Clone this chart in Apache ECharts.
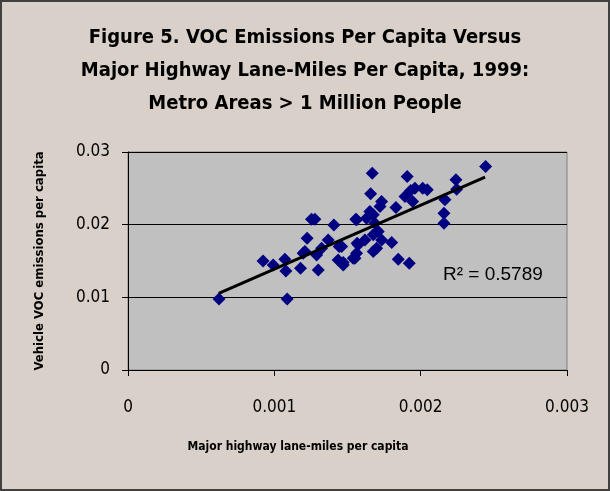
<!DOCTYPE html>
<html><head><meta charset="utf-8">
<script src="https://cdn.jsdelivr.net/npm/echarts@6/dist/echarts.min.js"></script>
<style>html,body{margin:0;padding:0;background:#d9d0c9}#c{width:610px;height:491px}</style>
</head><body><div id="c"></div>
<script>
// Data: metro areas > 1 million people (x: lane-miles per capita, y: VOC emissions per capita)
var laneMiles = [0.000622,0.001088,0.000923,0.000992,0.001072,0.001079,0.001179,0.0013,0.001197,0.001209,0.001224,0.001254,0.001277,0.001407,0.001289,0.001323,0.001368,0.001436,0.001471,0.001443,0.001539,0.001562,0.001566,0.001557,0.001669,0.001908,0.001658,0.001733,0.001722,0.001653,0.001676,0.001562,0.00163,0.001831,0.001893,0.001932,0.001961,0.002014,0.002045,0.001945,0.002166,0.002159,0.002159,0.001802,0.001847,0.001922,0.001687,0.00171,0.001676,0.001619,0.001573,0.001699,0.001676,0.001551,0.001471,0.00146,0.001733,0.002241,0.002246,0.002444];
var vocEmissions = [0.00978,0.00978,0.01501,0.01446,0.01525,0.01364,0.01401,0.01377,0.01607,0.0163,0.01814,0.02076,0.02076,0.01997,0.01584,0.01676,0.0179,0.01515,0.01446,0.01698,0.01538,0.01607,0.01745,0.02076,0.02709,0.02663,0.02424,0.02318,0.02249,0.0218,0.02135,0.02066,0.0209,0.02236,0.02387,0.0247,0.02502,0.02502,0.02479,0.02318,0.02342,0.02158,0.0202,0.01754,0.01525,0.0147,0.0202,0.01905,0.0186,0.0179,0.01722,0.01676,0.0163,0.01538,0.01478,0.01698,0.0179,0.02617,0.02489,0.02801];
// Linear trend line end points as drawn
var trendX = [0.00062, 0.00244];
var trendY = [0.01056, 0.02654];
var rSquared = '0.5789';
var xTicks = ['0','0.001','0.002','0.003'];
var yTicks = ['0','0.01','0.02','0.03'];
var titleLines = ['Figure 5. VOC Emissions Per Capita Versus','Major Highway Lane-Miles Per Capita, 1999:','Metro Areas > 1 Million People'];
var xName = 'Major highway lane-miles per capita';
var yName = 'Vehicle VOC emissions per capita';

var points = laneMiles.map(function(x,i){return [x, vocEmissions[i]];});
var trend = trendX.map(function(x,i){return [x, trendY[i]];});
var condensed = '"DejaVu Sans Condensed", "DejaVu Sans", sans-serif';

var chart = echarts.init(document.getElementById('c'));
chart.setOption({
  animation:false,
  backgroundColor:'#d9d0c9',
  title:{
    text:titleLines.join('\n'), left:'center', top:16,
    textStyle:{fontFamily:condensed, fontWeight:'bold', fontSize:20, color:'#000', lineHeight:33}
  },
  grid:{left:128, right:43, top:152, bottom:121, show:true, backgroundColor:'#c0c0c0', borderColor:'#808080', borderWidth:1},
  xAxis:{
    type:'value', min:0, max:0.003, interval:0.001,
    axisLine:{show:true, lineStyle:{color:'#000', width:1}},
    axisTick:{show:true, inside:false, length:6, lineStyle:{color:'#000'}},
    axisLabel:{margin:29, fontFamily:condensed, fontSize:17, color:'#000',
      formatter:function(v){var i=Math.round(v/0.001); return xTicks[i];}},
    splitLine:{show:false}
  },
  yAxis:{
    type:'value', min:0, max:0.03, interval:0.01,
    name:yName, nameLocation:'middle', nameGap:82, nameRotate:90,
    nameTextStyle:{fontFamily:condensed, fontWeight:'bold', fontSize:13, color:'#000'},
    axisLine:{show:true, lineStyle:{color:'#000', width:1}},
    axisTick:{show:true, inside:false, length:6, lineStyle:{color:'#000'}},
    axisLabel:{margin:18, fontFamily:condensed, fontSize:17, color:'#000',
      formatter:function(v){var i=Math.round(v/0.01); return yTicks[i];}},
    splitLine:{show:true, lineStyle:{color:'#000', width:1}}
  },
  graphic:[
    {type:'rect', shape:{x:1,y:1,width:608,height:489}, style:{fill:null, stroke:'#404040', lineWidth:2}, silent:true, z:100},
    {type:'text', left:443, top:265, style:{text:'R² = ' + rSquared, fontFamily:'"Liberation Sans", Arial, sans-serif', fontSize:19, fill:'#000'}, z:100},
    {type:'text', x:298, y:447, style:{text:xName, align:'center', verticalAlign:'middle', fontFamily:condensed, fontWeight:'bold', fontSize:12, fill:'#000'}, z:100}
  ],
  series:[
    {type:'scatter', data:points, symbol:'diamond', symbolSize:13, itemStyle:{color:'#000080', opacity:1}, z:3},
    {type:'line', data:trend, symbol:'none', lineStyle:{color:'#000', width:3}, z:4}
  ]
});
</script></body></html>
